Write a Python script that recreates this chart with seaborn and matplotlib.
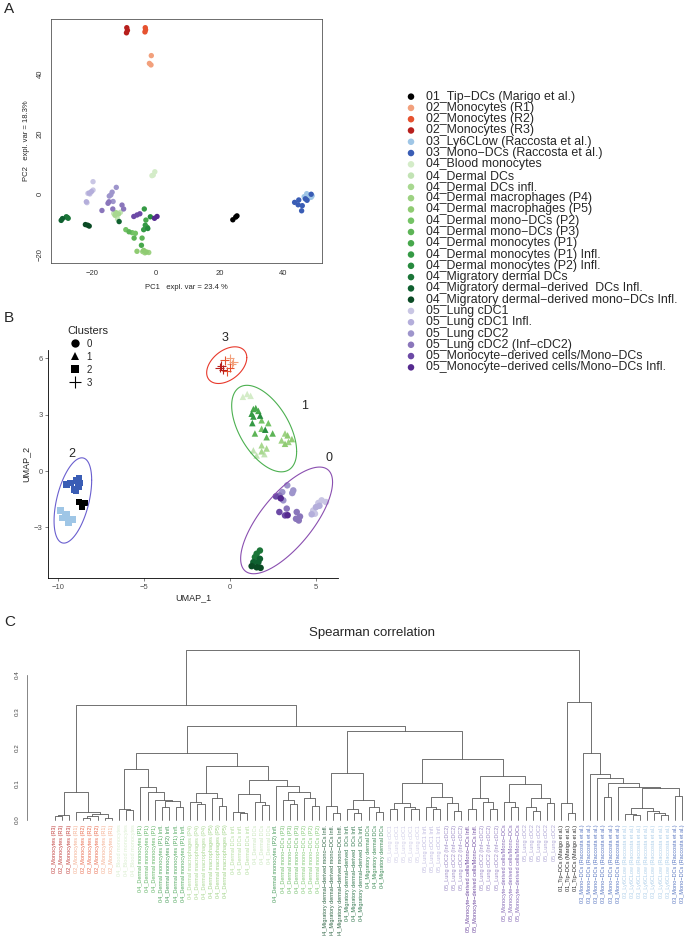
import numpy as np
import pandas as pd
import seaborn as sns
import matplotlib.pyplot as plt
from matplotlib.lines import Line2D

# sample groups, legend order
group_names = [
    "01_Tip\u2212DCs (Marigo et al.)",
    "02_Monocytes (R1)",
    "02_Monocytes (R2)",
    "02_Monocytes (R3)",
    "03_Ly6CLow (Raccosta et al.)",
    "03_Mono\u2212DCs (Raccosta et al.)",
    "04_Blood monocytes",
    "04_Dermal DCs",
    "04_Dermal DCs infl.",
    "04_Dermal macrophages (P4)",
    "04_Dermal macrophages (P5)",
    "04_Dermal mono\u2212DCs (P2)",
    "04_Dermal mono\u2212DCs (P3)",
    "04_Dermal monocytes (P1)",
    "04_Dermal monocytes (P1) Infl.",
    "04_Dermal monocytes (P2) Infl.",
    "04_Migratory dermal DCs",
    "04_Migratory dermal\u2212derived  DCs Infl.",
    "04_Migratory dermal\u2212derived mono\u2212DCs Infl.",
    "05_Lung cDC1",
    "05_Lung cDC1 Infl.",
    "05_Lung cDC2",
    "05_Lung cDC2 (Inf\u2212cDC2)",
    "05_Monocyte\u2212derived cells/Mono\u2212DCs",
    "05_Monocyte\u2212derived cells/Mono\u2212DCs Infl.",
]
group_counts = [3, 3, 3, 3, 7, 8, 3, 3, 3, 3, 3, 3, 3, 3, 3, 2, 3, 3, 3, 5, 3, 5, 6, 3, 2]
group_colors = [
    "#000000", "#f2a07c", "#e6522f", "#b71f1c", "#9fc6e6", "#3a5db5",
    "#d4ecc8", "#c2e3b4", "#a8d890", "#9dd282", "#8fcb72", "#74c365",
    "#5db456", "#47a84c", "#359a45", "#278a3e", "#1b7538", "#0f6030",
    "#0a4a24", "#c9c6e4", "#b4aedb", "#9e95cc", "#8a76bb", "#6c4aa6",
    "#552a8f",
]
group_cluster = [2, 3, 3, 3, 2, 2, 1, 1, 1, 1, 1, 1, 1, 1, 1, 1, 0, 0, 0, 0, 0, 0, 0, 0, 0]

# PCA coordinates, one line per group
pca_x = [24.1, 25.4, 25.0,
         -1.5, -2.1, -1.6,
         -3.4, -3.3, -3.5,
         -9.2, -9.0, -9.3,
         46.5, 47.3, 48.0, 48.7, 47.8, 46.8, 49.0,
         43.5, 44.8, 44.6, 45.9, 45.7, 46.9, 48.7, 47.4,
         -0.9, -0.4, -1.3,
         -11.2, -12.1, -13.3,
         -12.6, -11.8, -12.9,
         -2.3, -3.5, -4.2,
         -6.0, -3.9, -3.1,
         -9.5, -7.5, -6.5,
         -6.9, -4.4, -8.5,
         -3.2, -2.8, -4.6,
         -3.7, -3.4, -3.9,
         -1.8, -2.6,
         -28.2, -27.6, -27.9,
         -29.8, -29.4, -11.6,
         -22.2, -21.5, -21.0,
         -21.7, -21.4, -20.8, -19.8, -19.8,
         -21.0, -20.3, -21.9,
         -12.5, -13.8, -14.7, -14.2, -13.5,
         -15.1, -14.8, -17.0, -13.6, -10.7, -10.2,
         -7.0, -6.0, -5.1,
         -0.5, 0.3]
pca_y = [-8.5, -7.2, -7.6,
         46.2, 43.6, 43.1,
         55.5, 54.8, 54.1,
         55.5, 54.6, 53.8,
         -0.8, 0.2, -1.2, -1.0, -0.3, -1.5, -0.5,
         -2.7, -1.9, -3.5, -3.8, -5.5, -1.5, 0.0, -2.0,
         6.4, 7.5, 6.2,
         -6.0, -8.2, -6.4,
         -6.1, -6.6, -7.0,
         -19.4, -19.5, -19.1,
         -19.0, -18.7, -19.2,
         -11.8, -12.8, -13.0,
         -14.6, -14.6, -12.5,
         -8.6, -11.0, -17.0,
         -4.9, -10.3, -11.8,
         -7.5, -11.4,
         -7.5, -8.0, -7.7,
         -8.7, -8.1, -9.1,
         -10.1, -10.3, -10.6,
         -2.8, 0.3, 0.1, 1.4, 4.2,
         0.4, 0.9, -2.5,
         2.3, 0.7, -0.6, -0.2, -2.4,
         -3.0, -2.5, -5.4, -4.9, -3.6, -4.9,
         -7.4, -6.9, -6.5,
         -8.0, -7.4]

# UMAP coordinates, same sample order
umap_x = [-8.78, -8.47, -8.59,
          0.0, 0.2, 0.1,
          -0.2, 0.0, -0.3,
          -0.6, -0.5, -0.4,
          -9.84, -9.5, -9.75, -9.34, -9.15, -9.4, -9.59,
          -9.5, -9.26, -8.91, -8.78, -8.72, -8.82, -8.95, -9.07,
          0.75, 1.0, 1.2,
          1.36, 1.55, 2.0,
          1.84, 2.13, 1.84,
          3.2, 3.0, 3.4,
          3.6, 3.2, 3.35,
          1.84, 2.23, 1.84,
          1.45, 2.48, 2.13,
          1.36, 1.65, 1.5,
          1.26, 1.3, 1.36,
          1.75, 2.05,
          1.74, 1.55, 1.45,
          1.74, 1.65, 1.36,
          1.26, 1.55, 1.78,
          4.84, 4.94, 5.14, 5.33, 5.58,
          5.0, 5.2, 4.75,
          3.04, 3.33, 3.62, 3.68, 3.1,
          3.88, 4.07, 3.84, 4.0, 3.3, 2.87,
          2.67, 2.87, 3.2,
          3.35, 2.95]
umap_y = [-1.65, -1.69, -1.92,
          6.0, 5.8, 5.7,
          5.3, 5.5, 5.9,
          5.5, 5.6, 5.4,
          -2.1, -2.31, -2.49, -2.58, -2.59, -2.77, -2.36,
          -0.71, -0.64, -0.5, -0.36, -0.64, -0.85, -1.03, -0.98,
          3.95, 4.1, 4.0,
          1.1, 0.83, 0.9,
          1.37, 1.2, 1.05,
          2.0, 1.63, 1.55,
          1.7, 1.45, 1.9,
          2.7, 2.55, 2.25,
          2.0, 2.0, 1.8,
          3.3, 3.2, 3.35,
          3.05, 2.55, 2.9,
          2.95, 2.2,
          -4.23, -4.4, -4.58,
          -4.67, -4.85, -4.85,
          -5.06, -5.12, -5.15,
          -2.1, -2.27, -1.7, -1.56, -1.65,
          -1.92, -1.85, -2.3,
          -1.12, -0.76, -1.17, -1.03, -1.56,
          -2.18, -2.42, -2.54, -2.63, -2.0, -1.3,
          -1.35, -2.18, -2.36,
          -2.35, -1.45]

# confidence level of each cluster ellipse (cluster 0..3)
ellipse_level = [0.85, 0.93, 0.95, 0.99]
ellipse_colors = ["#8a4fb0", "#4cb050", "#6a5fcf", "#e8392c"]

# dendrogram leaves left to right: runs of (group index, count)
leaf_run_group = [3, 1, 2, 1, 6, 13, 14, 15, 14, 9, 10, 8, 7, 15, 12, 11, 18, 17, 16,
                  19, 20, 22, 24, 22, 23, 21, 0, 5, 4, 5]
leaf_run_count = [3, 1, 3, 2, 3, 3, 1, 1, 2, 3, 3, 3, 3, 1, 3, 3, 3, 3, 3,
                  5, 3, 3, 2, 3, 3, 5, 3, 6, 7, 2]

# merge tree: [height, left, right], ints are leaf positions (1-based)
mono_tree = [0.077, [0.015, [0.012, 1, 2], 3],
             [0.022, 4, [0.017, [0.012, [0.006, 5, 6], 7], [0.006, 8, 9]]]]
blood_derm = [0.142, [0.03, 10, [0.027, 11, 12]],
              [0.09, 13, [0.077, 14, [0.055, 15, [0.053, [0.035, 16, 17], [0.035, 18, 19]]]]]]
macro_dc = [0.15, [0.075, [0.05, 20, [0.045, 21, 22]], [0.06, 23, [0.04, 24, 25]]],
            [0.11, [0.073, [0.022, 26, [0.018, 27, 28]], [0.05, 29, [0.042, 30, 31]]],
             [0.093, 32, [0.077, [0.055, 33, [0.045, 34, 35]], [0.06, 36, [0.04, 37, 38]]]]]]
migratory = [0.13, [0.04, 39, [0.018, 40, 41]],
             [0.055, [0.03, 42, [0.02, 43, 44]], [0.035, 45, [0.022, 46, 47]]]]
lung_a = [0.102, [0.047, [0.03, 48, 49], [0.035, 50, [0.03, 51, 52]]],
          [0.064, [0.037, 53, [0.03, 54, 55]], [0.046, 56, [0.025, 57, 58]]]]
lung_b = [0.12, [0.06, [0.03, 59, 60], [0.05, 61, [0.03, 62, 63]]],
          [0.1, [0.05, 64, [0.035, 65, 66]], [0.062, [0.037, 67, [0.025, 68, 69]], [0.046, 70, 71]]]]
left_tree = [0.317, mono_tree,
             [0.26, [0.186, blood_derm, macro_dc], [0.245, migratory, [0.167, lung_a, lung_b]]]]
ly6c_tree = [0.032, [0.017, 81, [0.015, 82, 83]], [0.025, 84, [0.02, 85, [0.015, 86, 87]]]]
right_tree = [0.325, [0.046, 72, [0.019, 73, 74]],
              [0.184, 75, [0.126, 76, [0.115, 77, [0.101, [0.064, 78, 79],
                                                  [0.091, 80, [0.088, ly6c_tree, [0.067, 88, 89]]]]]]]]
dendro_tree = [0.47, left_tree, right_tree]


def t_ellipse(x, y, level=0.95, npts=120):
    # like ggplot2 stat_ellipse(type = "t")
    x = np.asarray(x)
    y = np.asarray(y)
    m = len(x) - 1
    fq = m / 2 * ((1 - level) ** (-2 / m) - 1)
    radius = np.sqrt(2 * fq)
    shape = np.cov(x, y)
    chol = np.linalg.cholesky(shape).T
    t = np.linspace(0, 2 * np.pi, npts)
    circ = np.column_stack([np.cos(t), np.sin(t)])
    pts = circ @ chol * radius
    return pts[:, 0] + x.mean(), pts[:, 1] + y.mean()


sns.set_style("white")
plt.rcParams['font.family'] = ['Liberation Sans', 'DejaVu Sans']

groups = np.repeat(group_names, group_counts)
clusters = np.repeat(group_cluster, group_counts)
palette = dict(zip(group_names, group_colors))
df = pd.DataFrame({"group": groups, "cluster": clusters,
                   "PC1": pca_x, "PC2": pca_y, "UMAP_1": umap_x, "UMAP_2": umap_y})

W, H = 685, 936
fig = plt.figure(figsize=(W / 100, H / 100), dpi=100)


def box(l, t, r, b):
    return [l / W, 1 - b / H, (r - l) / W, (b - t) / H]


# ---- A: PCA
axA = fig.add_axes(box(51, 19, 322, 263))
sns.scatterplot(data=df, x="PC1", y="PC2", hue="group", palette=palette,
                s=15, edgecolor="none", legend=False, ax=axA)
axA.set_xlim(-33, 52.1)
axA.set_ylim(-22.9, 58.4)
axA.set_xticks([-20, 0, 20, 40])
axA.set_yticks([-20, 0, 20, 40])
axA.set_xticklabels(["\u221220", "0", "20", "40"])
axA.set_yticklabels(["\u221220", "0", "20", "40"], rotation=90, va="center")
axA.tick_params(direction="out", length=3, width=0.5, labelsize=5.5, pad=2, colors="#333333")
for sp in axA.spines.values():
    sp.set_linewidth(0.6)
    sp.set_color("#555555")
axA.set_xlabel("PC1   expl. var = 23.4 %", fontsize=5.5, labelpad=5)
axA.set_ylabel("PC2   expl. var = 18.3%", fontsize=5.5, labelpad=5)

# legend for groups
axL = fig.add_axes(box(405, 91, 685, 373))
axL.set_xlim(0, 280)
axL.set_ylim(len(group_names) - 0.5, -0.5)
axL.axis("off")
idx = np.arange(len(group_names))
axL.scatter(np.full(len(idx), 6), idx, c=group_colors, s=22, edgecolors="none")
for i, name in enumerate(group_names):
    axL.text(21, i, name, fontsize=8.9, va="center", ha="left")

# ---- B: UMAP
axB = fig.add_axes(box(48, 350, 338, 578))
main = df[df["cluster"] != 3]
sns.scatterplot(data=main, x="UMAP_1", y="UMAP_2", hue="group", palette=palette,
                style="cluster", markers={0: "o", 1: "^", 2: "s"}, s=22,
                edgecolor="none", legend=False, ax=axB)
plus = df[df["cluster"] == 3]
sns.scatterplot(data=plus, x="UMAP_1", y="UMAP_2", hue="group", palette=palette,
                marker="+", s=40, linewidth=0.8, legend=False, ax=axB)
for k, col in enumerate(ellipse_colors):
    sub = df[df["cluster"] == k]
    ex, ey = t_ellipse(sub["UMAP_1"], sub["UMAP_2"], level=ellipse_level[k])
    axB.plot(ex, ey, color=col, lw=0.8, clip_on=False)
axB.set_xlim(-10.58, 6.28)
axB.set_ylim(-5.69, 6.44)
axB.set_xticks([-10, -5, 0, 5])
axB.set_yticks([-3, 0, 3, 6])
sns.despine(ax=axB)
for sp in ["left", "bottom"]:
    axB.spines[sp].set_linewidth(0.6)
    axB.spines[sp].set_color("black")
axB.tick_params(direction="out", length=2.5, width=0.5, labelsize=5.5, pad=1.5,
                colors="#4d4d4d", left=True, bottom=True)
axB.set_xlabel("UMAP_1", fontsize=6.5, labelpad=2)
axB.set_ylabel("UMAP_2", fontsize=6.5, labelpad=2)
for k, (tx, ty) in zip([3, 1, 2, 0], [(-0.3, 7.1), (4.36, 3.45), (-9.2, 0.9), (5.76, 0.7)]):
    axB.text(tx, ty, str(k), fontsize=9, ha="center", va="center", clip_on=False)
handles = [Line2D([], [], marker=m, color="black", linestyle="none",
                  markersize=8 if m == "+" else 6,
                  markeredgewidth=0.8 if m == "+" else 0)
           for m in ["o", "^", "s", "+"]]
axB.legend(handles, ["0", "1", "2", "3"], title="Clusters", loc="upper left",
           bbox_to_anchor=(63 / W, 1 - 322 / H), bbox_transform=fig.transFigure,
           frameon=False, fontsize=7, title_fontsize=8, handletextpad=0.4,
           labelspacing=0.3, alignment="left", borderaxespad=0, handlelength=1.6)

# ---- C: dendrogram
axC = fig.add_axes(box(27, 642, 686, 827))
n_leaves = sum(leaf_run_count)


def draw_node(node):
    if isinstance(node, int):
        return node, 0.0
    h, a, b = node
    xa, ha = draw_node(a)
    xb, hb = draw_node(b)
    axC.plot([xa, xa, xb, xb], [ha, h, h, hb], color="#5a5a5a", lw=0.6)
    return (xa + xb) / 2, h


draw_node(dendro_tree)
leaf_group = np.repeat(leaf_run_group, leaf_run_count)
for pos, g in enumerate(leaf_group, start=1):
    axC.text(pos, -0.013, group_names[g], rotation=90, ha="center", va="top",
             fontsize=4, color=group_colors[g], alpha=0.85, clip_on=False)
axC.set_xlim(-2.9, n_leaves + 0.5)
axC.set_ylim(-0.0193, 0.491)
axC.set_xticks([])
axC.set_yticks([0, 0.1, 0.2, 0.3, 0.4])
axC.set_yticklabels(["0.0", "0.1", "0.2", "0.3", "0.4"], rotation=90, va="center")
for sp in ["top", "right", "bottom"]:
    axC.spines[sp].set_visible(False)
axC.spines["left"].set_bounds(0, 0.4)
axC.spines["left"].set_linewidth(0.5)
axC.spines["left"].set_color("#555555")
axC.tick_params(axis="y", direction="out", length=3, width=0.5, labelsize=4.5, pad=2,
                colors="#444444")
axC.patch.set_alpha(0)
fig.text(372 / W, 1 - 633 / H, "Spearman correlation", ha="center", va="center", fontsize=9.5)

# panel letters
for letter, y in [("A", 9), ("B", 318), ("C", 622)]:
    fig.text(4 / W, 1 - y / H, letter, fontsize=11, ha="left", va="center")

fig.savefig("out.png", dpi=100)
